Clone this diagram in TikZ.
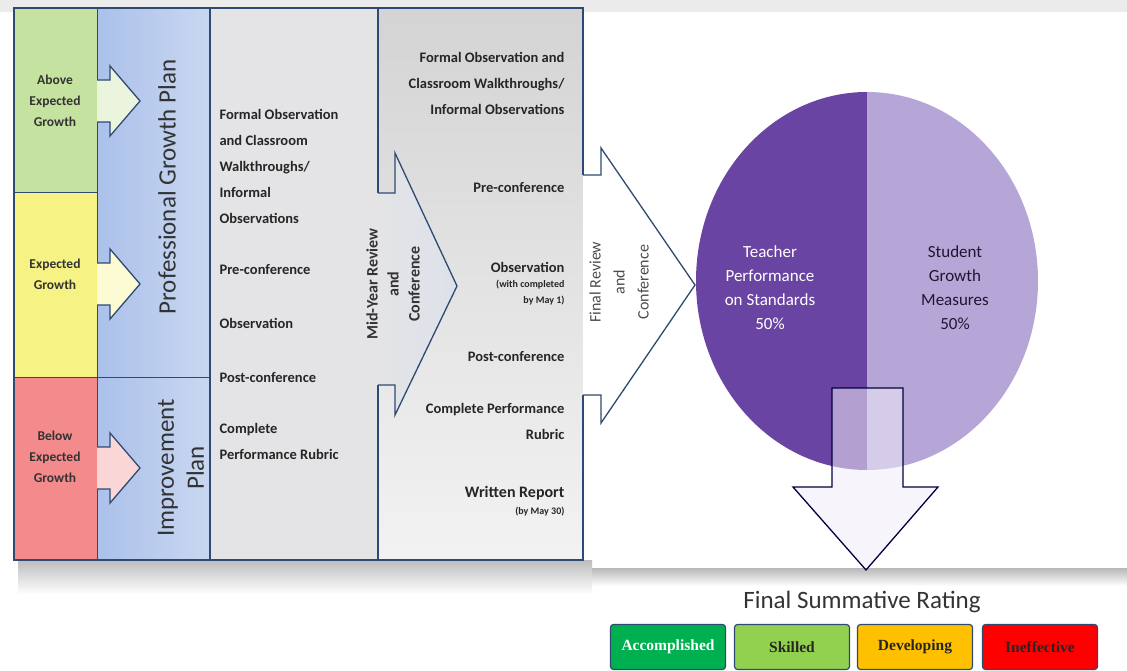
\documentclass[tikz,border=0pt]{standalone}
\usepackage{fontspec}
\setmainfont{Carlito}
\newfontfamily\ratefont{Liberation Serif}
\definecolor{edgeblue}{HTML}{2E4A72}
\definecolor{growgreen}{HTML}{C5E2A0}
\definecolor{growyellow}{HTML}{F6F384}
\definecolor{growred}{HTML}{F38A8C}
\definecolor{planblue}{HTML}{ABC1EA}
\definecolor{planblueb}{HTML}{C9D7F1}
\definecolor{stepgray}{HTML}{E4E4E6}
\definecolor{midgray}{HTML}{DCE1EA}
\definecolor{piedark}{HTML}{6A44A2}
\definecolor{pielight}{HTML}{B6A6D8}
\definecolor{rateA}{HTML}{00B050}
\definecolor{rateS}{HTML}{92D050}
\definecolor{rateD}{HTML}{FFC000}
\definecolor{rateI}{HTML}{FF0000}
\tikzset{
  edge/.style={draw=edgeblue, line width=1.4pt},
  growtext/.style={font=\bfseries\fontsize{13.5}{21}\selectfont, align=center, text=black!80},
  plantext/.style={font=\fontsize{25}{30}\selectfont, align=center, text=black!80},
  stepitem/.style={font=\bfseries\fontsize{14.5}{26}\selectfont, text=black!85},
  stepnote/.style={font=\bfseries\fontsize{10}{16}\selectfont, text=black!85},
  turntext/.style={rotate=90, align=center, font=\fontsize{16}{21}\selectfont},
  pietext/.style={font=\fontsize{17}{24}\selectfont, align=center},
  ratebox/.style={draw=edgeblue, line width=1.2pt, rounded corners=3pt, minimum width=115pt,
    minimum height=45pt, font=\ratefont\bfseries\fontsize{15.5}{17}\selectfont}
}
\begin{document}
\begin{tikzpicture}[x=1pt,y=-1pt]
\useasboundingbox (0,0) rectangle (1127,671);
% backdrop and shadows
\fill[black!8] (0,0) rectangle (1127,12);
\shade[top color=black!28, bottom color=white] (588,568) rectangle (1127,586);
\shade[top color=black!26, bottom color=white] (18,560) rectangle (592,594);
% left panel
\fill[growgreen] (14,8) rectangle (97,193);
\fill[growyellow] (14,193) rectangle (97,377);
\fill[growred] (14,377) rectangle (97,560);
\shade[left color=planblue, right color=planblueb] (97,8) rectangle (210,560);
\fill[stepgray] (210,8) rectangle (378,560);
\shade[top color=black!17, middle color=white, bottom color=black!5] (378,8) rectangle (583,560);
\draw[edge, line width=1pt] (14,193) -- (97,193);
\draw[edge, line width=1pt] (14,377) -- (210,377);
\draw[edge, line width=1pt] (97,8) -- (97,560);
\draw[edge, line width=2pt] (210,8) -- (210,560);
\draw[edge, line width=2pt] (378,8) -- (378,193);
\draw[edge, line width=2pt] (378,385) -- (378,560);
\draw[edge, line width=2pt] (583,175) -- (583,8) -- (14,8) -- (14,560) -- (583,560) -- (583,395);
% growth arrows
\foreach \c/\col in {101/growgreen, 284/growyellow, 468/growred}
\filldraw[edge, line width=1.3pt, fill=\col!35!white]
  (97,\c-21) -- (110,\c-21) -- (110,\c-35) -- (140,\c) -- (110,\c+35) -- (110,\c+21) -- (97,\c+21);
% review arrows
\shadedraw[edge, line width=1.3pt, left color=stepgray, right color=midgray]
  (378,193) -- (395,193) -- (395,153) -- (457,286) -- (395,415) -- (395,385) -- (378,385);
\filldraw[edge, line width=1.3pt, fill=white]
  (583,175) -- (601,175) -- (601,148) -- (695,285) -- (601,423) -- (601,395) -- (583,395);
% pie
\begin{scope}
\clip (867,281) ellipse [x radius=171, y radius=189];
\fill[piedark] (696,92) rectangle (867,470);
\fill[pielight] (867,92) rectangle (1038,470);
\end{scope}
\filldraw[draw=black!75!blue, line width=1.3pt, fill=white!80!pielight, fill opacity=0.55]
  (832,388) -- (903,388) -- (903,487) -- (938,487) -- (866,570) -- (793,487) -- (832,487) -- cycle;
% texts
\node[growtext] (above) at (55,101) {Above\\Expected\\Growth};
\node[growtext] (expected) at (55,274) {Expected\\Growth};
\node[growtext] (below) at (55,457) {Below\\Expected\\Growth};
\node[plantext, rotate=90] (profplan) at (167,187) {Professional Growth Plan};
\node[plantext, rotate=90] (impplan) at (181,468) {Improvement\\Plan};
\node[stepitem, anchor=west, align=left] (formalA) at (216,166) {Formal Observation\\and Classroom\\Walkthroughs/\\Informal\\Observations};
\node[stepitem, anchor=west] (preA) at (216,270) {Pre-conference};
\node[stepitem, anchor=west] (obsA) at (216,323) {Observation};
\node[stepitem, anchor=west] (postA) at (216,378) {Post-conference};
\node[stepitem, anchor=west, align=left] (rubricA) at (216,441) {Complete\\Performance Rubric};
\node[stepitem, anchor=east, align=right] (formalB) at (568,83) {Formal Observation and\\Classroom Walkthroughs/\\Informal Observations};
\node[stepitem, anchor=east] (preB) at (568,188) {Pre-conference};
\node[stepitem, anchor=east] (obsB) at (568,267) {Observation};
\node[stepnote, anchor=east, align=right] (obsnote) at (568,293) {(with completed\\by May 1)};
\node[stepitem, anchor=east] (postB) at (568,357) {Post-conference};
\node[stepitem, anchor=east, align=right] (rubricB) at (568,421) {Complete Performance\\Rubric};
\node[stepitem, anchor=east, font=\bfseries\fontsize{16}{20}\selectfont] (report) at (568,493) {Written Report};
\node[stepnote, anchor=east] (reportnote) at (568,512) {(by May 30)};
\node[turntext, font=\bfseries\fontsize{16}{21}\selectfont, text=black!80] (midyear) at (393,284) {Mid-Year Review\\and\\Conference};
\node[turntext, font=\fontsize{16}{24}\selectfont, text=black!70] (final) at (619,282) {Final Review\\and\\Conference};
\node[pietext, text=white] (teacher) at (770,288) {Teacher\\Performance\\on Standards\\50\%};
\node[pietext, text=black!70!piedark] (student) at (955,288) {Student\\Growth\\Measures\\50\%};
\node[font=\fontsize{25}{30}\selectfont, text=black!80] (summary) at (862,602) {Final Summative Rating};
\foreach \x/\lab/\col/\tc [count=\i] in {668/Accomplished/rateA/white, 792/Skilled/rateS/black!85,
  915/Developing/rateD/black!85, 1040/Ineffective/rateI/black!85}
\node[ratebox, fill=\col, text=\tc] (rate\i) at (\x,647) {\lab};
\end{tikzpicture}
\end{document}
